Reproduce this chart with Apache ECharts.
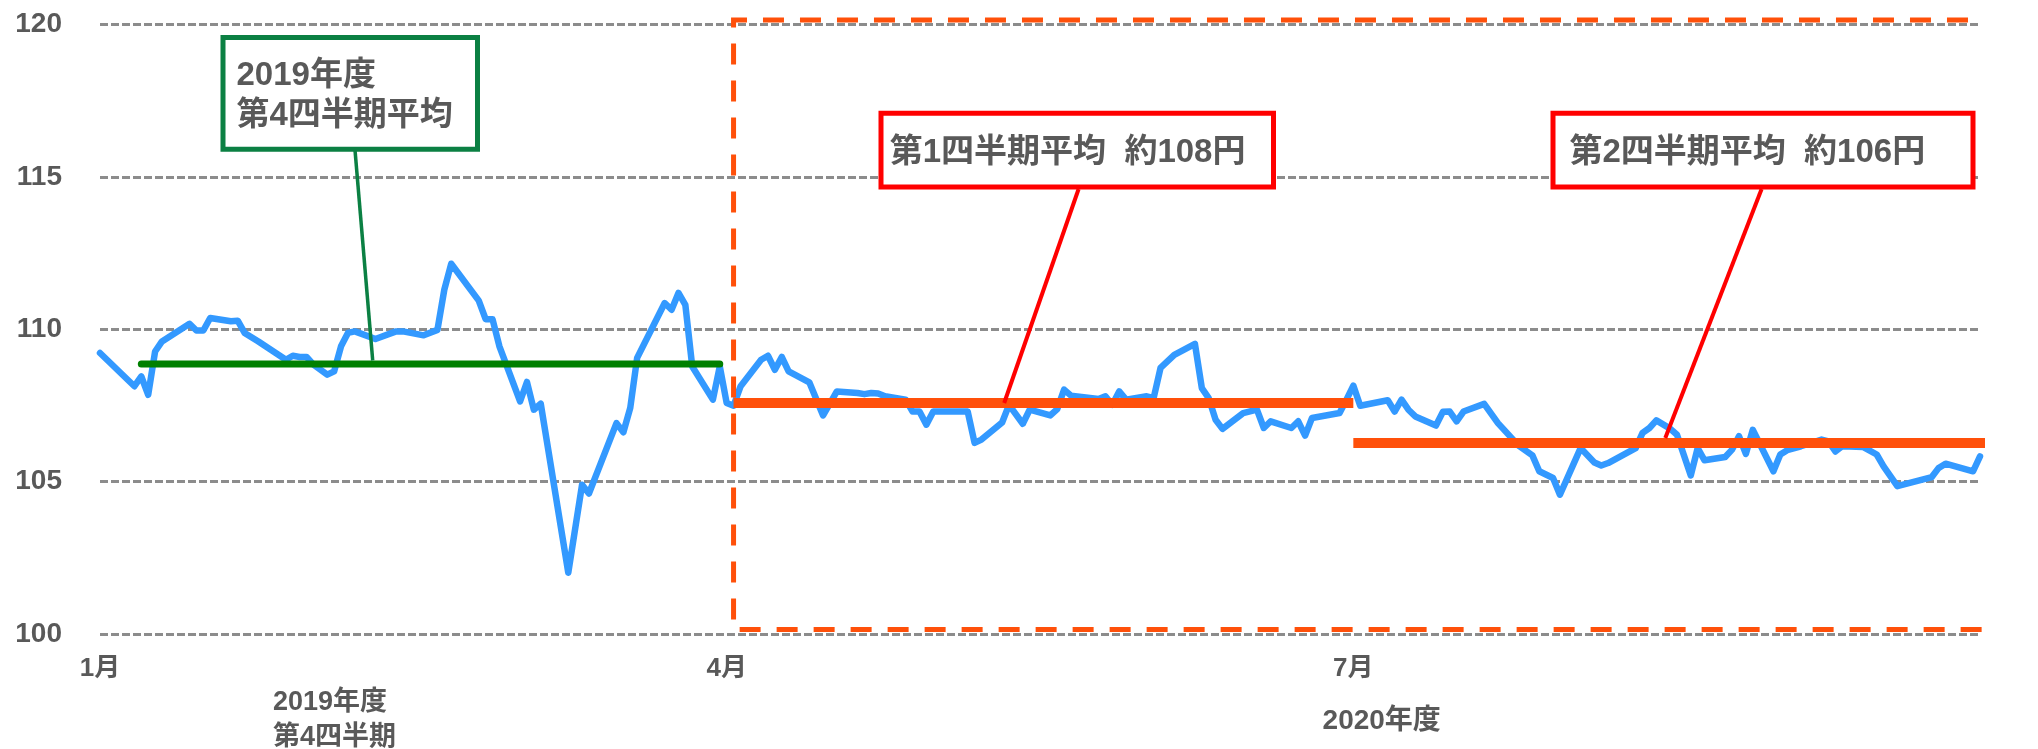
<!DOCTYPE html>
<html>
<head>
<meta charset="utf-8">
<script src="https://cdn.jsdelivr.net/npm/echarts@6/dist/echarts.min.js"></script>
<style>
html,body{margin:0;padding:0;background:#fff;overflow:hidden;}
#c{width:2038px;height:749px;}
</style>
</head>
<body>
<div id="c"></div>
<script>
// ---- data (x = days since 2020-01-01, y = USD/JPY) ----
const days = [
  0,5,6,7,8,9,13,14,15,16,
  19,20,21,23,27,28,29,30,31,33,
  34,35,36,37,38,40,43,44,47,49,
  50,51,55,56,57,58,61,62,63,64,
  68,70,71,75,76,77,78,82,83,84,
  85,86,89,90,91,92,93,96,97,98,
  99,100,103,105,107,110,111,112,113,114,
  117,118,119,120,121,126,127,128,131,132,
  134,135,138,139,140,141,145,146,147,148,
  149,152,153,154,156,159,160,161,162,163,
  166,168,169,170,173,174,175,176,180,181,
  182,183,187,188,189,190,191,194,195,196,
  197,198,201,203,206,208,209,211,212,215,
  217,218,219,223,224,225,226,228,229,231,
  232,233,236,237,238,239,240,243,244,245,
  247,250,251,252,253,256,258,259,261,266,
  267,268,272,273
];
const rates = [
  109.22,108.13,108.45,107.85,109.27,109.60,110.18,109.96,109.96,110.37,
  110.26,110.28,109.88,109.60,109.00,109.13,109.09,109.09,108.84,108.51,
  108.62,109.44,109.88,109.93,109.85,109.68,109.93,109.93,109.80,109.98,
  111.30,112.15,110.94,110.33,110.33,109.44,107.63,108.27,107.36,107.56,
  102.01,104.90,104.61,106.92,106.62,107.42,109.06,110.86,110.64,111.19,
  110.80,108.78,107.69,108.78,107.58,107.49,108.12,109.00,109.13,108.67,
  109.09,108.62,108.26,107.17,107.96,107.91,107.87,107.91,107.89,107.80,
  107.69,107.30,107.30,106.87,107.30,107.30,106.27,106.38,106.94,107.52,
  106.90,107.36,107.17,107.38,108.02,107.82,107.71,107.80,107.52,107.96,
  107.69,107.80,107.74,108.73,109.16,109.52,108.07,107.74,107.03,106.73,
  107.25,107.36,106.76,106.98,106.76,106.98,106.51,107.09,107.25,107.69,
  108.15,107.49,107.67,107.30,107.69,107.36,107.14,106.84,107.29,107.30,
  106.98,107.30,107.55,106.92,106.18,105.86,105.34,105.12,104.57,106.10,
  105.63,105.53,105.61,106.10,106.60,106.76,107.01,106.74,106.54,105.20,
  106.10,105.70,105.81,106.05,106.49,105.91,106.70,105.34,105.89,106.03,
  106.16,106.38,106.32,105.99,106.16,106.14,105.89,105.50,104.85,105.15,
  105.45,105.59,105.34,105.83
];
// quarterly averages: start day, end day, value
const avgStart = [6, 92, 182];
const avgEnd   = [90, 182, 282];
const avgValue = [108.86, 107.58, 106.27];
// day on each average line that the callout points at
const calloutDay = [39.6, 131.3, 227.3];
const calloutTexts = ['2019年度\n第4四半期平均', '第1四半期平均  約108円', '第2四半期平均  約106円'];
// FY2020 dashed frame: [startDay, endDay, bottomValue, topValue]
const fyFrame = [92, 282, 100.15, 120.15];
// axis ticks
const monthTicks  = [0, 91, 182];
const monthLabels = ['1月', '4月', '7月'];
const yTicks = [100, 105, 110, 115, 120];
const periodLabels = ['2019年度\n第4四半期', '2020年度'];

// ---- chart ----
const FONT = "'Liberation Sans','Noto Sans CJK JP',sans-serif";
const TEXT = '#595959';
const ORANGE = '#FF500A';
const GREEN_LINE = '#008000';
const GREEN_BOX = '#0B8043';
const RED = '#FF0000';

const chart = echarts.init(document.getElementById('c'), null, {renderer: 'canvas'});

const series = [];
series.push({
  type: 'line', silent: true, symbol: 'none', z: 3,
  data: days.map((d, i) => [d, rates[i]]),
  lineStyle: {color: '#3399FF', width: 6.5, join: 'round', cap: 'round'}
});
avgValue.forEach((v, i) => {
  series.push({
    type: 'line', silent: true, symbol: 'none', clip: false, z: 4,
    data: [[avgStart[i], v], [avgEnd[i], v]],
    lineStyle: i === 0
      ? {color: GREEN_LINE, width: 7, cap: 'round'}
      : {color: ORANGE, width: 10, cap: 'butt'}
  });
});
series.push({
  type: 'line', silent: true, symbol: 'none', clip: false, z: 5,
  data: [[fyFrame[1], fyFrame[3]], [fyFrame[0], fyFrame[3]], [fyFrame[0], fyFrame[2]], [fyFrame[1], fyFrame[2]]],
  lineStyle: {color: ORANGE, width: 5, type: [21, 16], join: 'miter'}
});

chart.setOption({
  backgroundColor: '#ffffff',
  animation: false,
  grid: {left: 100, right: 58, top: 24.5, bottom: 115, containLabel: false},
  xAxis: {
    type: 'value', min: 0, max: 273, interval: 91,
    axisLine: {show: false}, axisTick: {show: false}, splitLine: {show: false},
    axisLabel: {
      showMaxLabel: false,
      formatter: v => { const k = monthTicks.indexOf(v); return k >= 0 ? monthLabels[k] : ''; },
      color: TEXT, fontSize: 26, fontWeight: 'bold', fontFamily: FONT, margin: 22
    }
  },
  yAxis: {
    type: 'value', min: yTicks[0], max: yTicks[yTicks.length - 1], interval: 5,
    axisLine: {show: false}, axisTick: {show: false},
    splitLine: {show: true, lineStyle: {color: '#8c8c8c', width: 3, type: [8, 3]}},
    axisLabel: {color: TEXT, fontSize: 28, fontWeight: 'bold', fontFamily: FONT, margin: 38}
  },
  series: series
});

// ---- callouts ----
const P = (x, y) => chart.convertToPixel({gridIndex: 0}, [x, y]);
const b0 = P(calloutDay[0], avgValue[0]);
const b1 = P(calloutDay[1], avgValue[1]);
const b2 = P(calloutDay[2], avgValue[2]);
const txt = (t, x, y, size, align, lh) => ({
  type: 'text', z: 102, silent: true,
  style: {
    text: t, x: x, y: y,
    font: 'bold ' + size + 'px ' + FONT,
    fill: TEXT, align: align, verticalAlign: 'middle',
    textAlign: align, textVerticalAlign: 'middle',
    lineHeight: lh || size
  }
});
const elements = [
  {type: 'line', z: 100, silent: true, shape: {x1: 355, y1: 150, x2: b0[0], y2: b0[1] - 3.5}, style: {stroke: GREEN_BOX, lineWidth: 3.5}},
  {type: 'line', z: 100, silent: true, shape: {x1: 1078.6, y1: 189, x2: b1[0], y2: b1[1]}, style: {stroke: RED, lineWidth: 4}},
  {type: 'line', z: 100, silent: true, shape: {x1: 1761.6, y1: 189, x2: b2[0], y2: b2[1] - 5}, style: {stroke: RED, lineWidth: 4}},
  {type: 'rect', z: 101, silent: true, shape: {x: 223, y: 37.5, width: 254.5, height: 111.7}, style: {fill: '#fff', stroke: GREEN_BOX, lineWidth: 5}},
  {type: 'rect', z: 101, silent: true, shape: {x: 881, y: 113.3, width: 392.5, height: 73.7}, style: {fill: '#fff', stroke: RED, lineWidth: 5}},
  {type: 'rect', z: 101, silent: true, shape: {x: 1553, y: 113.3, width: 420, height: 73.7}, style: {fill: '#fff', stroke: RED, lineWidth: 5}},
  txt(calloutTexts[0], 236.5, 95.5, 33, 'left', 40),
  txt(calloutTexts[1], 889.7, 152.5, 33, 'left'),
  txt(calloutTexts[2], 1569.4, 152.5, 33, 'left'),
  txt(periodLabels[0], 273, 720, 27, 'left', 34.5),
  txt(periodLabels[1], 1381.7, 721, 28, 'center')
];
chart.setOption({graphic: {elements: elements}});
</script>
</body>
</html>
